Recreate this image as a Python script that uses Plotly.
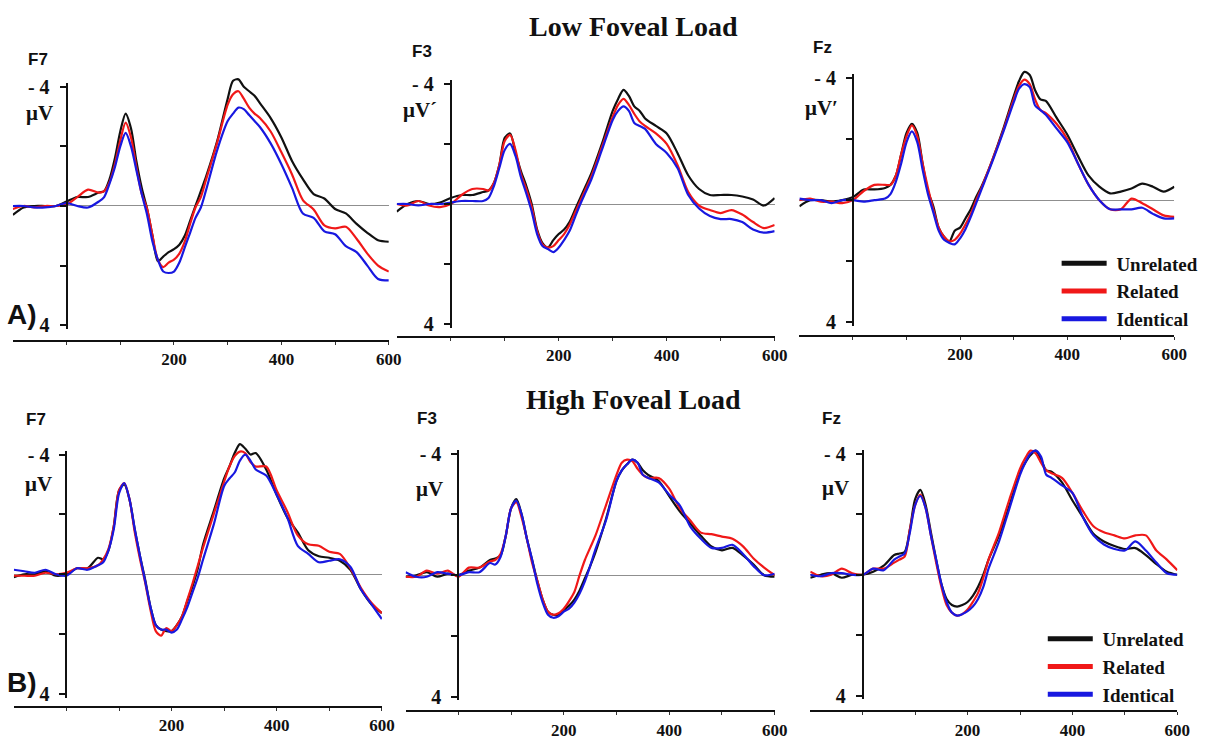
import plotly.graph_objects as go

# ---------------- data (time in ms, amplitude in microvolts; negative plotted up) -------------
TIME = [-100, -80, -60, -40, -20, 0, 20, 40, 60, 70, 80, 90, 100, 110, 120, 130, 140, 150, 160, 170,
        180, 190, 200, 210, 220, 230, 240, 250, 260, 280, 300, 310, 320, 330, 340, 350, 360, 380, 400,
        420, 440, 460, 480, 500, 520, 540, 560, 580, 600]

CONDITIONS = ["Unrelated", "Related", "Identical"]
ELECTRODES = ["F7", "F3", "Fz"]
LOADS = ["Low Foveal Load", "High Foveal Load"]

# Low foveal load
F7_LOW_UNRELATED = [0.3, 0.05, 0.0, 0.0, 0.0, -0.15, -0.3, -0.3, -0.45, -0.5, -0.9, -1.6, -2.5, -3.1, -2.6, -1.5, -0.6, 0.1, 1.0, 1.85,
                    1.7, 1.55, 1.45, 1.3, 1.0, 0.5, 0.0, -0.5, -1.0, -2.15, -3.6, -4.2, -4.25, -4.0, -3.85, -3.7, -3.45, -2.95, -2.3,
                    -1.5, -0.9, -0.4, -0.25, 0.1, 0.25, 0.6, 0.9, 1.15, 1.2]
F7_LOW_RELATED = [0.1, 0.0, 0.05, 0.0, 0.0, -0.05, -0.3, -0.55, -0.45, -0.5, -0.8, -1.4, -2.2, -2.8, -2.3, -1.3, -0.4, 0.1, 1.0, 1.8,
                  2.05, 1.9, 1.8, 1.6, 1.2, 0.6, 0.05, -0.3, -0.9, -2.1, -3.4, -3.75, -3.85, -3.6, -3.3, -3.1, -2.95, -2.5, -1.8,
                  -1.05, -0.2, 0.12, 0.65, 0.75, 0.7, 1.1, 1.6, 2.0, 2.2]
F7_LOW_IDENTICAL = [0.0, 0.0, 0.05, 0.05, 0.0, -0.1, 0.0, 0.05, -0.15, -0.3, -0.75, -1.3, -2.0, -2.45, -2.0, -1.2, -0.4, 0.3, 1.2, 1.8,
                    2.2, 2.25, 2.2, 1.9, 1.4, 0.9, 0.4, 0.05, -0.55, -1.85, -2.85, -3.1, -3.3, -3.25, -3.05, -2.85, -2.65, -2.1, -1.4,
                    -0.6, 0.25, 0.4, 0.85, 0.95, 1.35, 1.55, 2.0, 2.45, 2.5]

F3_LOW_UNRELATED = [0.25, 0.0, -0.1, 0.0, -0.05, -0.2, -0.3, -0.3, -0.4, -0.45, -0.7, -1.3, -2.2, -2.35, -1.7, -1.1, -0.6, 0.0, 0.85, 1.3,
                    1.45, 1.2, 1.0, 0.85, 0.6, 0.2, -0.2, -0.6, -1.0, -2.0, -3.1, -3.5, -3.8, -3.6, -3.25, -3.1, -2.85, -2.6, -2.35,
                    -1.7, -0.95, -0.5, -0.3, -0.3, -0.3, -0.25, -0.15, 0.05, -0.2]
F3_LOW_RELATED = [0.0, 0.05, -0.1, 0.05, 0.1, 0.0, -0.3, -0.5, -0.5, -0.45, -0.7, -1.3, -2.1, -2.3, -1.8, -1.0, -0.5, 0.1, 0.9, 1.35,
                  1.45, 1.4, 1.2, 1.0, 0.7, 0.3, -0.1, -0.5, -0.9, -1.9, -2.9, -3.3, -3.5, -3.3, -3.0, -2.75, -2.6, -2.35, -2.0,
                  -1.3, -0.4, 0.05, 0.2, 0.3, 0.2, 0.35, 0.6, 0.8, 0.7]
F3_LOW_IDENTICAL = [0.0, 0.0, 0.05, 0.0, 0.0, -0.05, -0.1, -0.1, -0.1, -0.2, -0.6, -1.2, -1.8, -2.0, -1.6, -0.9, -0.35, 0.25, 1.0, 1.4,
                    1.5, 1.6, 1.45, 1.2, 0.9, 0.45, 0.0, -0.4, -0.8, -1.8, -2.8, -3.1, -3.25, -3.1, -2.7, -2.6, -2.5, -2.0, -1.7,
                    -1.2, -0.3, 0.15, 0.4, 0.5, 0.5, 0.6, 0.85, 0.95, 0.9]

FZ_LOW_UNRELATED = [0.2, 0.0, 0.0, 0.05, 0.0, -0.1, -0.35, -0.35, -0.4, -0.5, -0.8, -1.5, -2.2, -2.5, -2.2, -1.2, -0.3, 0.2, 0.9, 1.2,
                    1.35, 1.0, 0.9, 0.6, 0.3, -0.1, -0.45, -0.85, -1.3, -2.3, -3.4, -3.9, -4.2, -4.1, -3.6, -3.3, -3.25, -2.7, -2.15,
                    -1.45, -0.8, -0.44, -0.22, -0.28, -0.38, -0.54, -0.44, -0.28, -0.44]
FZ_LOW_RELATED = [0.0, -0.05, 0.05, 0.05, 0.1, 0.0, -0.3, -0.5, -0.5, -0.5, -0.8, -1.5, -2.1, -2.45, -2.1, -1.2, -0.4, 0.3, 0.9, 1.2,
                  1.35, 1.3, 1.1, 0.8, 0.45, 0.0, -0.4, -0.85, -1.3, -2.25, -3.3, -3.75, -3.95, -3.8, -3.3, -2.95, -2.85, -2.5, -2.0,
                  -1.2, -0.5, 0.0, 0.3, 0.3, -0.05, 0.1, 0.3, 0.5, 0.55]
FZ_LOW_IDENTICAL = [-0.05, 0.0, 0.0, 0.1, 0.0, 0.0, 0.05, 0.0, -0.05, -0.2, -0.6, -1.2, -1.9, -2.25, -1.9, -1.0, -0.2, 0.4, 1.0, 1.3,
                    1.4, 1.45, 1.25, 0.95, 0.55, 0.1, -0.35, -0.8, -1.25, -2.2, -3.2, -3.65, -3.8, -3.7, -3.1, -2.95, -2.8, -2.35, -1.9,
                    -1.2, -0.5, 0.0, 0.3, 0.3, 0.3, 0.25, 0.45, 0.6, 0.6]

# High foveal load
F7_HIGH_UNRELATED = [0.1, 0.0, 0.0, -0.1, 0.05, 0.0, -0.2, -0.2, -0.55, -0.5, -0.8, -1.6, -2.8, -3.0, -2.5, -1.5, -0.6, 0.2, 1.1, 1.7,
                     1.85, 1.9, 1.9, 1.7, 1.4, 0.9, 0.4, -0.2, -1.0, -2.1, -3.2, -3.6, -4.05, -4.35, -4.2, -4.0, -4.05, -3.5, -2.65,
                     -1.9, -1.4, -0.8, -0.6, -0.55, -0.45, -0.15, 0.5, 1.0, 1.3]
F7_HIGH_RELATED = [0.05, 0.05, 0.05, -0.05, 0.0, -0.05, -0.2, -0.2, -0.3, -0.5, -0.85, -1.6, -2.8, -3.05, -2.5, -1.4, -0.5, 0.3, 1.2, 1.9,
                   2.05, 1.8, 1.9, 1.7, 1.4, 0.85, 0.3, -0.3, -0.9, -2.0, -3.1, -3.6, -3.95, -4.1, -4.05, -3.75, -3.6, -3.6, -2.8,
                   -2.1, -1.3, -1.0, -0.95, -0.75, -0.68, -0.2, 0.45, 0.95, 1.3]
F7_HIGH_IDENTICAL = [-0.15, -0.1, -0.05, -0.15, 0.0, 0.05, -0.2, -0.15, -0.3, -0.4, -0.8, -1.5, -2.7, -3.05, -2.5, -1.5, -0.6, 0.25, 1.1, 1.7,
                     1.85, 1.85, 1.95, 1.85, 1.5, 1.1, 0.6, 0.1, -0.5, -1.65, -2.95, -3.2, -3.4, -3.8, -4.0, -3.8, -3.5, -3.3, -2.65,
                     -1.9, -0.95, -0.68, -0.4, -0.45, -0.5, -0.25, 0.5, 1.0, 1.5]

F3_HIGH_UNRELATED = [0.05, 0.0, -0.1, 0.05, -0.05, 0.0, -0.15, -0.25, -0.5, -0.55, -0.65, -1.3, -2.2, -2.5, -2.0, -1.2, -0.5, 0.2, 0.8, 1.2,
                     1.3, 1.3, 1.15, 1.0, 0.8, 0.5, 0.1, -0.3, -0.75, -1.85, -3.1, -3.45, -3.65, -3.8, -3.7, -3.45, -3.3, -3.1, -2.6,
                     -2.1, -1.7, -1.3, -0.95, -0.82, -0.9, -0.65, -0.35, 0.0, 0.05]
F3_HIGH_RELATED = [0.05, 0.05, -0.15, -0.05, -0.15, 0.05, -0.25, -0.25, -0.45, -0.5, -0.7, -1.3, -2.2, -2.4, -1.9, -1.2, -0.4, 0.2, 0.8, 1.2,
                   1.3, 1.25, 1.1, 0.85, 0.55, 0.0, -0.5, -0.9, -1.3, -2.3, -3.3, -3.7, -3.8, -3.75, -3.5, -3.3, -3.2, -3.2, -2.85,
                   -2.2, -1.8, -1.4, -1.35, -1.27, -1.2, -0.95, -0.55, -0.25, 0.0]
F3_HIGH_IDENTICAL = [-0.1, 0.05, 0.05, -0.1, -0.05, 0.0, -0.1, -0.1, -0.4, -0.35, -0.6, -1.3, -2.2, -2.45, -2.0, -1.2, -0.5, 0.3, 0.9, 1.3,
                     1.4, 1.35, 1.2, 1.1, 0.9, 0.6, 0.2, -0.3, -0.85, -1.8, -3.1, -3.45, -3.65, -3.8, -3.7, -3.3, -3.2, -3.05, -2.65,
                     -2.3, -1.6, -1.2, -0.9, -0.9, -1.0, -0.7, -0.3, 0.0, -0.05]

FZ_HIGH_UNRELATED = [0.1, 0.0, -0.05, 0.1, 0.0, 0.0, -0.1, -0.3, -0.65, -0.7, -0.75, -1.5, -2.5, -2.8, -2.3, -1.4, -0.5, 0.3, 0.8, 1.0,
                     1.05, 1.0, 0.9, 0.7, 0.4, 0.0, -0.5, -0.9, -1.3, -2.3, -3.4, -3.7, -3.95, -4.1, -3.8, -3.45, -3.4, -3.05, -2.45,
                     -1.9, -1.35, -1.1, -0.95, -0.85, -0.88, -0.65, -0.35, -0.1, 0.0]
FZ_HIGH_RELATED = [-0.1, 0.05, 0.0, -0.2, -0.05, 0.0, -0.2, -0.2, -0.4, -0.5, -0.6, -1.5, -2.3, -2.65, -2.2, -1.3, -0.4, 0.4, 1.0, 1.25,
                   1.35, 1.3, 1.15, 0.9, 0.6, 0.1, -0.5, -0.95, -1.4, -2.5, -3.5, -3.85, -4.1, -4.0, -3.7, -3.45, -3.35, -3.2, -2.7,
                   -2.1, -1.6, -1.4, -1.3, -1.2, -1.3, -1.3, -0.8, -0.5, -0.15]
FZ_HIGH_IDENTICAL = [0.0, 0.05, -0.05, -0.05, 0.0, 0.0, -0.2, -0.15, -0.5, -0.6, -0.7, -1.4, -2.3, -2.6, -2.2, -1.3, -0.5, 0.3, 0.9, 1.25,
                     1.35, 1.3, 1.2, 1.05, 0.8, 0.4, -0.2, -0.65, -1.1, -2.2, -3.3, -3.7, -4.0, -4.1, -3.9, -3.3, -3.2, -2.95, -2.7,
                     -1.9, -1.3, -1.0, -0.85, -0.8, -1.1, -0.8, -0.4, -0.05, 0.0]

PANEL_SERIES = [
    [F7_LOW_UNRELATED, F7_LOW_RELATED, F7_LOW_IDENTICAL],
    [F3_LOW_UNRELATED, F3_LOW_RELATED, F3_LOW_IDENTICAL],
    [FZ_LOW_UNRELATED, FZ_LOW_RELATED, FZ_LOW_IDENTICAL],
    [F7_HIGH_UNRELATED, F7_HIGH_RELATED, F7_HIGH_IDENTICAL],
    [F3_HIGH_UNRELATED, F3_HIGH_RELATED, F3_HIGH_IDENTICAL],
    [FZ_HIGH_UNRELATED, FZ_HIGH_RELATED, FZ_HIGH_IDENTICAL],
]
UV_LABELS = ["μV", "μV´", "μV′", "μV", "μV", "μV"]

Y_TICKS = [-4, -2, 0, 2, 4]
Y_TICK_TEXT = ["- 4", "", "", "", "4"]
X_TICKS = [0, 100, 200, 300, 400, 500, 600]
X_TICK_TEXT = ["", "", "200", "", "400", "", "600"]

# ---------------- layout geometry (pixels) ----------------
W, H = 1221, 740
COLORS = ["#111111", "#f01818", "#1818e0"]
SERIF = "Liberation Serif"
SANS = "Liberation Sans"

# x pixel at -100 ms, x pixel at 600 ms, y pixel of -4 uV, y pixel of +4 uV, y pixel of time axis
GEOM = [
    (13, 393, 82, 327, 342),
    (401, 783, 79, 326, 338),
    (808, 1187, 73, 324, 337),
    (14, 386, 460, 706, 718),
    (410, 783, 459, 709, 723),
    (819, 1190, 459, 708, 723),
]
# electrode label centres, uV label centres
ELEC_POS = [(38, 54), (427, 46), (831, 42), (36, 424), (432, 423), (840, 423)]
UV_POS = [(40, 109), (425, 106), (830, 104), (39, 490), (434, 495), (844, 494)]


def fx(px):
    return px / W


def fy(py):
    return 1 - py / H


fig = go.Figure()
layout = dict(
    width=W, height=H, margin=dict(l=0, r=0, t=0, b=0),
    paper_bgcolor="white", plot_bgcolor="rgba(0,0,0,0)",
    showlegend=True, annotations=[],
)

for i, (xl, xr, ym4, yp4, yax) in enumerate(GEOM):
    n = i + 1
    s = (yp4 - ym4) / 8.0
    z = (ym4 + yp4) / 2.0
    v_bottom = (yax - z) / s
    v_top = -5.0
    top_px = z + v_top * s
    xname = "xaxis" if n == 1 else f"xaxis{n}"
    yname = "yaxis" if n == 1 else f"yaxis{n}"
    tname = f"yaxis{n + 6}"
    xid = "x" if n == 1 else f"x{n}"
    yid = "y" if n == 1 else f"y{n}"
    tid = f"y{n + 6}"

    layout[xname] = dict(
        domain=[fx(xl), fx(xr)], range=[-100, 600], anchor=yid,
        showline=True, linecolor="#111111", linewidth=2,
        tickvals=X_TICKS, ticktext=X_TICK_TEXT, ticks="outside", ticklen=3,
        tickcolor="#333333", tickwidth=1,
        tickfont=dict(family=SERIF, size=17, color="#111111", weight="bold"),
        showgrid=False, zeroline=False, fixedrange=True,
    )
    layout[yname] = dict(
        domain=[fy(yax), fy(top_px)], range=[v_bottom, v_top], anchor=xid,
        showline=False, showticklabels=False, ticks="", showgrid=False,
        zeroline=True, zerolinecolor="#8f8f8f", zerolinewidth=1.3, fixedrange=True,
    )
    zero_x_px = xl + (xr - xl) * 100.0 / 700.0
    lim = 4.12
    layout[tname] = dict(
        domain=[fy(z + lim * s), fy(z - lim * s)], range=[lim, -lim],
        anchor="free", position=fx(zero_x_px),
        showline=True, linecolor="#111111", linewidth=2,
        tickvals=Y_TICKS, ticktext=Y_TICK_TEXT, ticks="outside", ticklen=6,
        tickwidth=1.5, tickcolor="#111111",
        tickfont=dict(family=SERIF, size=20, color="#111111", weight="bold"),
        ticklabelstandoff=6,
        showgrid=False, zeroline=False, fixedrange=True,
    )
    # invisible trace so the free tick axis gets drawn
    fig.add_trace(go.Scatter(x=[], y=[], xaxis=xid, yaxis=tid, showlegend=False,
                             hoverinfo="skip", mode="lines"))

    for c, series in enumerate(PANEL_SERIES[i]):
        fig.add_trace(go.Scatter(
            x=TIME, y=series, xaxis=xid, yaxis=yid, mode="lines",
            line=dict(color=COLORS[c], width=2.2, shape="spline", smoothing=0.8),
            name=CONDITIONS[c], showlegend=False,
        ))

    layout["annotations"].append(dict(
        x=fx(ELEC_POS[i][0]), y=fy(ELEC_POS[i][1]), xref="paper", yref="paper",
        text=ELECTRODES[i % 3], showarrow=False, xanchor="center", yanchor="middle",
        font=dict(family=SANS, size=17, color="#111111", weight="bold"),
    ))
    layout["annotations"].append(dict(
        x=fx(UV_POS[i][0]), y=fy(UV_POS[i][1]), xref="paper", yref="paper",
        text=UV_LABELS[i], showarrow=False, xanchor="center", yanchor="middle",
        font=dict(family=SERIF, size=21, color="#111111", weight="bold"),
    ))

# legend-only entries (thick lines) for the two legends
for leg, xid, yid in [("legend", "x3", "y3"), ("legend2", "x6", "y6")]:
    for c, name in enumerate(CONDITIONS):
        fig.add_trace(go.Scatter(
            x=[None], y=[None], xaxis=xid, yaxis=yid, mode="lines",
            line=dict(color=COLORS[c], width=5), name="\u00a0" + name, legend=leg, showlegend=True,
        ))

legend_common = dict(
    xanchor="left", yanchor="top", bgcolor="rgba(0,0,0,0)", borderwidth=0,
    font=dict(family=SERIF, size=19, color="#111111", weight="bold"),
    itemwidth=45, tracegroupgap=0, traceorder="normal", itemclick=False, itemdoubleclick=False,
)
layout["legend"] = dict(x=fx(1068), y=fy(244), **legend_common)
layout["legend2"] = dict(x=fx(1054), y=fy(630), **legend_common)

# titles and panel letters
layout["annotations"] += [
    dict(x=fx(640), y=fy(20), xref="paper", yref="paper", text=LOADS[0], showarrow=False,
         xanchor="center", yanchor="middle", font=dict(family=SERIF, size=28, color="#111111", weight="bold")),
    dict(x=fx(640), y=fy(403), xref="paper", yref="paper", text=LOADS[1], showarrow=False,
         xanchor="center", yanchor="middle", font=dict(family=SERIF, size=28, color="#111111", weight="bold")),
    dict(x=fx(22), y=fy(316), xref="paper", yref="paper", text="A)", showarrow=False,
         xanchor="center", yanchor="middle", font=dict(family=SANS, size=28, color="#111111", weight="bold")),
    dict(x=fx(22), y=fy(694), xref="paper", yref="paper", text="B)", showarrow=False,
         xanchor="center", yanchor="middle", font=dict(family=SANS, size=28, color="#111111", weight="bold")),
]

fig.update_layout(**layout)
fig.write_html("out.html", config={"displayModeBar": False},
               post_script="document.body.style.margin='0';document.body.style.overflow='hidden';")
